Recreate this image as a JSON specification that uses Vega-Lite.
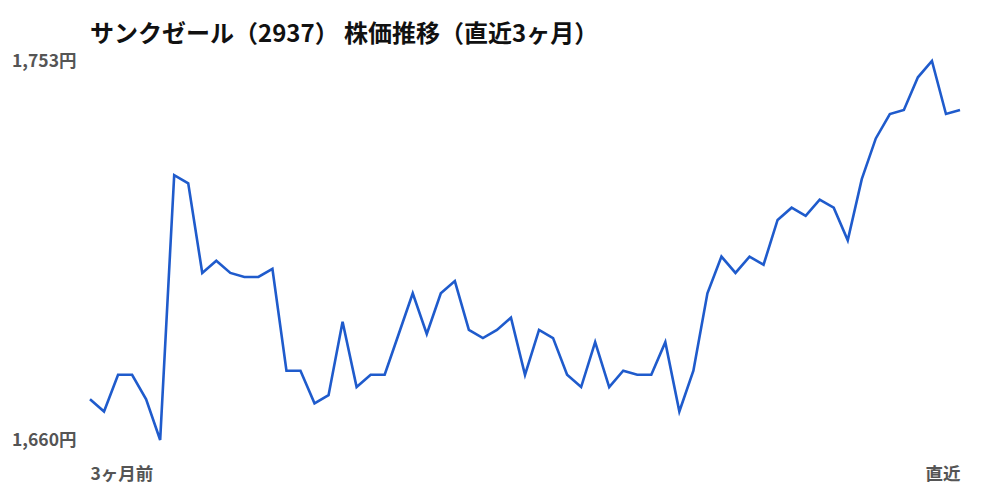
{
  "$schema": "https://vega.github.io/schema/vega-lite/v6.json",
  "width": 870,
  "height": 379,
  "autosize": {"type": "none"},
  "padding": {"left": 90, "top": 61, "right": 40, "bottom": 60},
  "background": "white",
  "title": {
    "text": "サンクゼール（2937） 株価推移（直近3ヶ月）",
    "anchor": "start",
    "frame": "group",
    "font": "Noto Sans CJK JP",
    "fontSize": 24,
    "fontWeight": "bold",
    "color": "#111111",
    "offset": 5
  },
  "data": {
    "values": [
      {"i": 0, "price": 1670}, {"i": 1, "price": 1667}, {"i": 2, "price": 1676}, {"i": 3, "price": 1676},
      {"i": 4, "price": 1670}, {"i": 5, "price": 1660}, {"i": 6, "price": 1725}, {"i": 7, "price": 1723},
      {"i": 8, "price": 1701}, {"i": 9, "price": 1704}, {"i": 10, "price": 1701}, {"i": 11, "price": 1700},
      {"i": 12, "price": 1700}, {"i": 13, "price": 1702}, {"i": 14, "price": 1677}, {"i": 15, "price": 1677},
      {"i": 16, "price": 1669}, {"i": 17, "price": 1671}, {"i": 18, "price": 1689}, {"i": 19, "price": 1673},
      {"i": 20, "price": 1676}, {"i": 21, "price": 1676}, {"i": 22, "price": 1686}, {"i": 23, "price": 1696},
      {"i": 24, "price": 1686}, {"i": 25, "price": 1696}, {"i": 26, "price": 1699}, {"i": 27, "price": 1687},
      {"i": 28, "price": 1685}, {"i": 29, "price": 1687}, {"i": 30, "price": 1690}, {"i": 31, "price": 1676},
      {"i": 32, "price": 1687}, {"i": 33, "price": 1685}, {"i": 34, "price": 1676}, {"i": 35, "price": 1673},
      {"i": 36, "price": 1684}, {"i": 37, "price": 1673}, {"i": 38, "price": 1677}, {"i": 39, "price": 1676},
      {"i": 40, "price": 1676}, {"i": 41, "price": 1684}, {"i": 42, "price": 1667}, {"i": 43, "price": 1677},
      {"i": 44, "price": 1696}, {"i": 45, "price": 1705}, {"i": 46, "price": 1701}, {"i": 47, "price": 1705},
      {"i": 48, "price": 1703}, {"i": 49, "price": 1714}, {"i": 50, "price": 1717}, {"i": 51, "price": 1715},
      {"i": 52, "price": 1719}, {"i": 53, "price": 1717}, {"i": 54, "price": 1709}, {"i": 55, "price": 1724},
      {"i": 56, "price": 1734}, {"i": 57, "price": 1740}, {"i": 58, "price": 1741}, {"i": 59, "price": 1749},
      {"i": 60, "price": 1753}, {"i": 61, "price": 1740}, {"i": 62, "price": 1741}
    ]
  },
  "mark": {"type": "line", "color": "#1f5bcc", "strokeWidth": 2.6, "strokeJoin": "miter"},
  "encoding": {
    "x": {
      "field": "i",
      "type": "quantitative",
      "scale": {"domain": [0, 62], "nice": false, "zero": false},
      "axis": {
        "title": null,
        "values": [0, 62],
        "labelExpr": "datum.value == 0 ? '3ヶ月前' : '直近'",
        "labelFlush": true,
        "labelFont": "Noto Sans CJK JP",
        "labelFontSize": 17.5,
        "labelFontWeight": "bold",
        "labelColor": "#555555",
        "labelPadding": 25,
        "ticks": false,
        "domain": false,
        "grid": false
      }
    },
    "y": {
      "field": "price",
      "type": "quantitative",
      "scale": {"domain": [1660, 1753], "nice": false, "zero": false},
      "axis": {
        "title": null,
        "values": [1660, 1753],
        "labelExpr": "format(datum.value, ',') + '円'",
        "labelFont": "Noto Sans CJK JP",
        "labelFontSize": 17.5,
        "labelFontWeight": "bold",
        "labelColor": "#555555",
        "labelPadding": 14,
        "ticks": false,
        "domain": false,
        "grid": false
      }
    }
  },
  "config": {"view": {"stroke": null}}
}
